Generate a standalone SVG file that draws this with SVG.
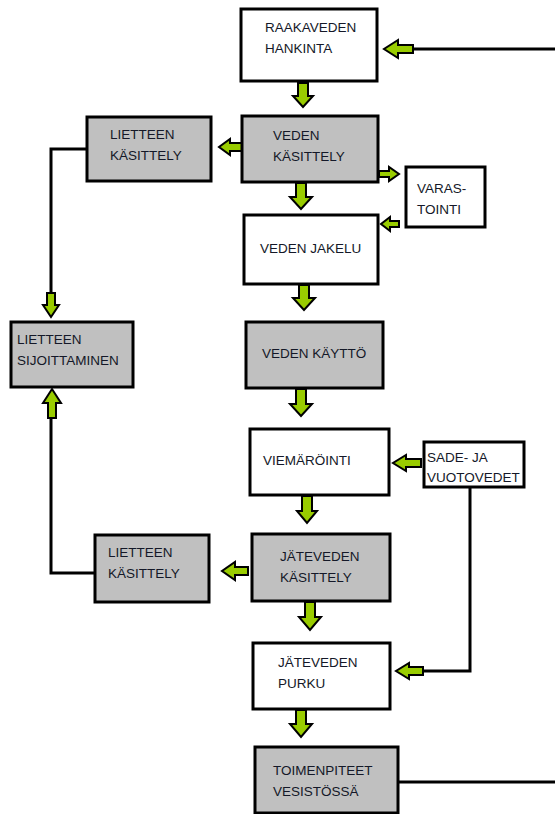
<svg xmlns="http://www.w3.org/2000/svg" width="555" height="814" viewBox="0 0 555 814">
<style>
.box{stroke:#000;stroke-width:3;fill:#fff}
.gray{fill:#c0c0c0}
.arr{fill:#99cc00;stroke:#000;stroke-width:2;stroke-linejoin:miter}
.ln{fill:none;stroke:#000;stroke-width:3}
text{font-family:"Liberation Sans",Arial,sans-serif;font-size:13.5px;fill:#141828}
</style>
<rect width="555" height="814" fill="#fff"/>
<g id="connectors">
<path class="ln" d="M555,49 H412"/>
<path class="ln" d="M88,149 H51 V294"/>
<path class="ln" d="M96,573 H51 V417"/>
<path class="ln" d="M470,487 V671 H422"/>
<path class="ln" d="M398,782 H555"/>
<polygon class="arr" points="298,83 308,83 308,96 313,96 303,107 293,96 298,96"/>
<polygon class="arr" points="296,183 306,183 306,197 312,197 301,209 290,197 296,197"/>
<polygon class="arr" points="299,285 309,285 309,298 315,298 304,310 293,298 299,298"/>
<polygon class="arr" points="296,389 306,389 306,404 312,404 301,416 290,404 296,404"/>
<polygon class="arr" points="302,496 312,496 312,511 317,511 307,523 297,511 302,511"/>
<polygon class="arr" points="305,602 315,602 315,617 321,617 310,630 299,617 305,617"/>
<polygon class="arr" points="296,710 306,710 306,724 312,724 301,737 290,724 296,724"/>
<polygon class="arr" points="47,293 55,293 55,305 59,305 51,317 43,305 47,305"/>
<polygon class="arr" points="48,418 56,418 56,403 61,403 52,389 43,403 48,403"/>
<polygon class="arr" points="413,45 413,53 398,53 398,58 384,49 398,40 398,45"/>
<polygon class="arr" points="242,143 242,151 230,151 230,155 219,147 230,139 230,143"/>
<polygon class="arr" points="399,221 399,227 390,227 390,231 381,224 390,217 390,221"/>
<polygon class="arr" points="421,459 421,467 406,467 406,471 393,463 406,455 406,459"/>
<polygon class="arr" points="248,567 248,575 235,575 235,580 222,571 235,562 235,567"/>
<polygon class="arr" points="423,667 423,675 409,675 409,679 396,671 409,663 409,667"/>
<polygon class="arr" points="379,171 379,177 389,177 389,181 399,174 389,167 389,171"/>
</g>
<g id="raakaveden"><rect class="box" x="241" y="9" width="136" height="72"/><text x="265" y="32">RAAKAVEDEN</text><text x="265" y="53">HANKINTA</text></g>
<g id="veden-kasittely"><rect class="box gray" x="242" y="116" width="136" height="66"/><text x="273" y="140">VEDEN</text><text x="273" y="161">KÄSITTELY</text></g>
<g id="varastointi"><rect class="box" x="406" y="167" width="79" height="60"/><text x="417" y="193">VARAS-</text><text x="417" y="214">TOINTI</text></g>
<g id="veden-jakelu"><rect class="box" x="244" y="215" width="134" height="69"/><text x="260" y="253">VEDEN JAKELU</text></g>
<g id="veden-kaytto"><rect class="box gray" x="246" y="322" width="137" height="66"/><text x="262" y="358">VEDEN KÄYTTÖ</text></g>
<g id="viemarointi"><rect class="box" x="250" y="429" width="139" height="66"/><text x="263" y="465">VIEMÄRÖINTI</text></g>
<g id="sade"><rect class="box" x="424" y="442" width="100" height="45"/><text x="427" y="462">SADE- JA</text><text x="427" y="482">VUOTOVEDET</text></g>
<g id="jateveden-kasittely"><rect class="box gray" x="252" y="534" width="138" height="67"/><text x="280" y="561">JÄTEVEDEN</text><text x="280" y="582">KÄSITTELY</text></g>
<g id="jateveden-purku"><rect class="box" x="253" y="643" width="137" height="66"/><text x="278" y="667">JÄTEVEDEN</text><text x="278" y="688">PURKU</text></g>
<g id="toimenpiteet"><rect class="box gray" x="255" y="747" width="143" height="66"/><text x="273" y="775">TOIMENPITEET</text><text x="273" y="796">VESISTÖSSÄ</text></g>
<g id="lietteen-kasittely-1"><rect class="box gray" x="87" y="117" width="124" height="64"/><text x="110" y="139">LIETTEEN</text><text x="110" y="160">KÄSITTELY</text></g>
<g id="lietteen-sijoittaminen"><rect class="box gray" x="11" y="322" width="122" height="65"/><text x="17" y="344">LIETTEEN</text><text x="17" y="365">SIJOITTAMINEN</text></g>
<g id="lietteen-kasittely-2"><rect class="box gray" x="95" y="535" width="114" height="67"/><text x="108" y="557">LIETTEEN</text><text x="108" y="578">KÄSITTELY</text></g>
</svg>
